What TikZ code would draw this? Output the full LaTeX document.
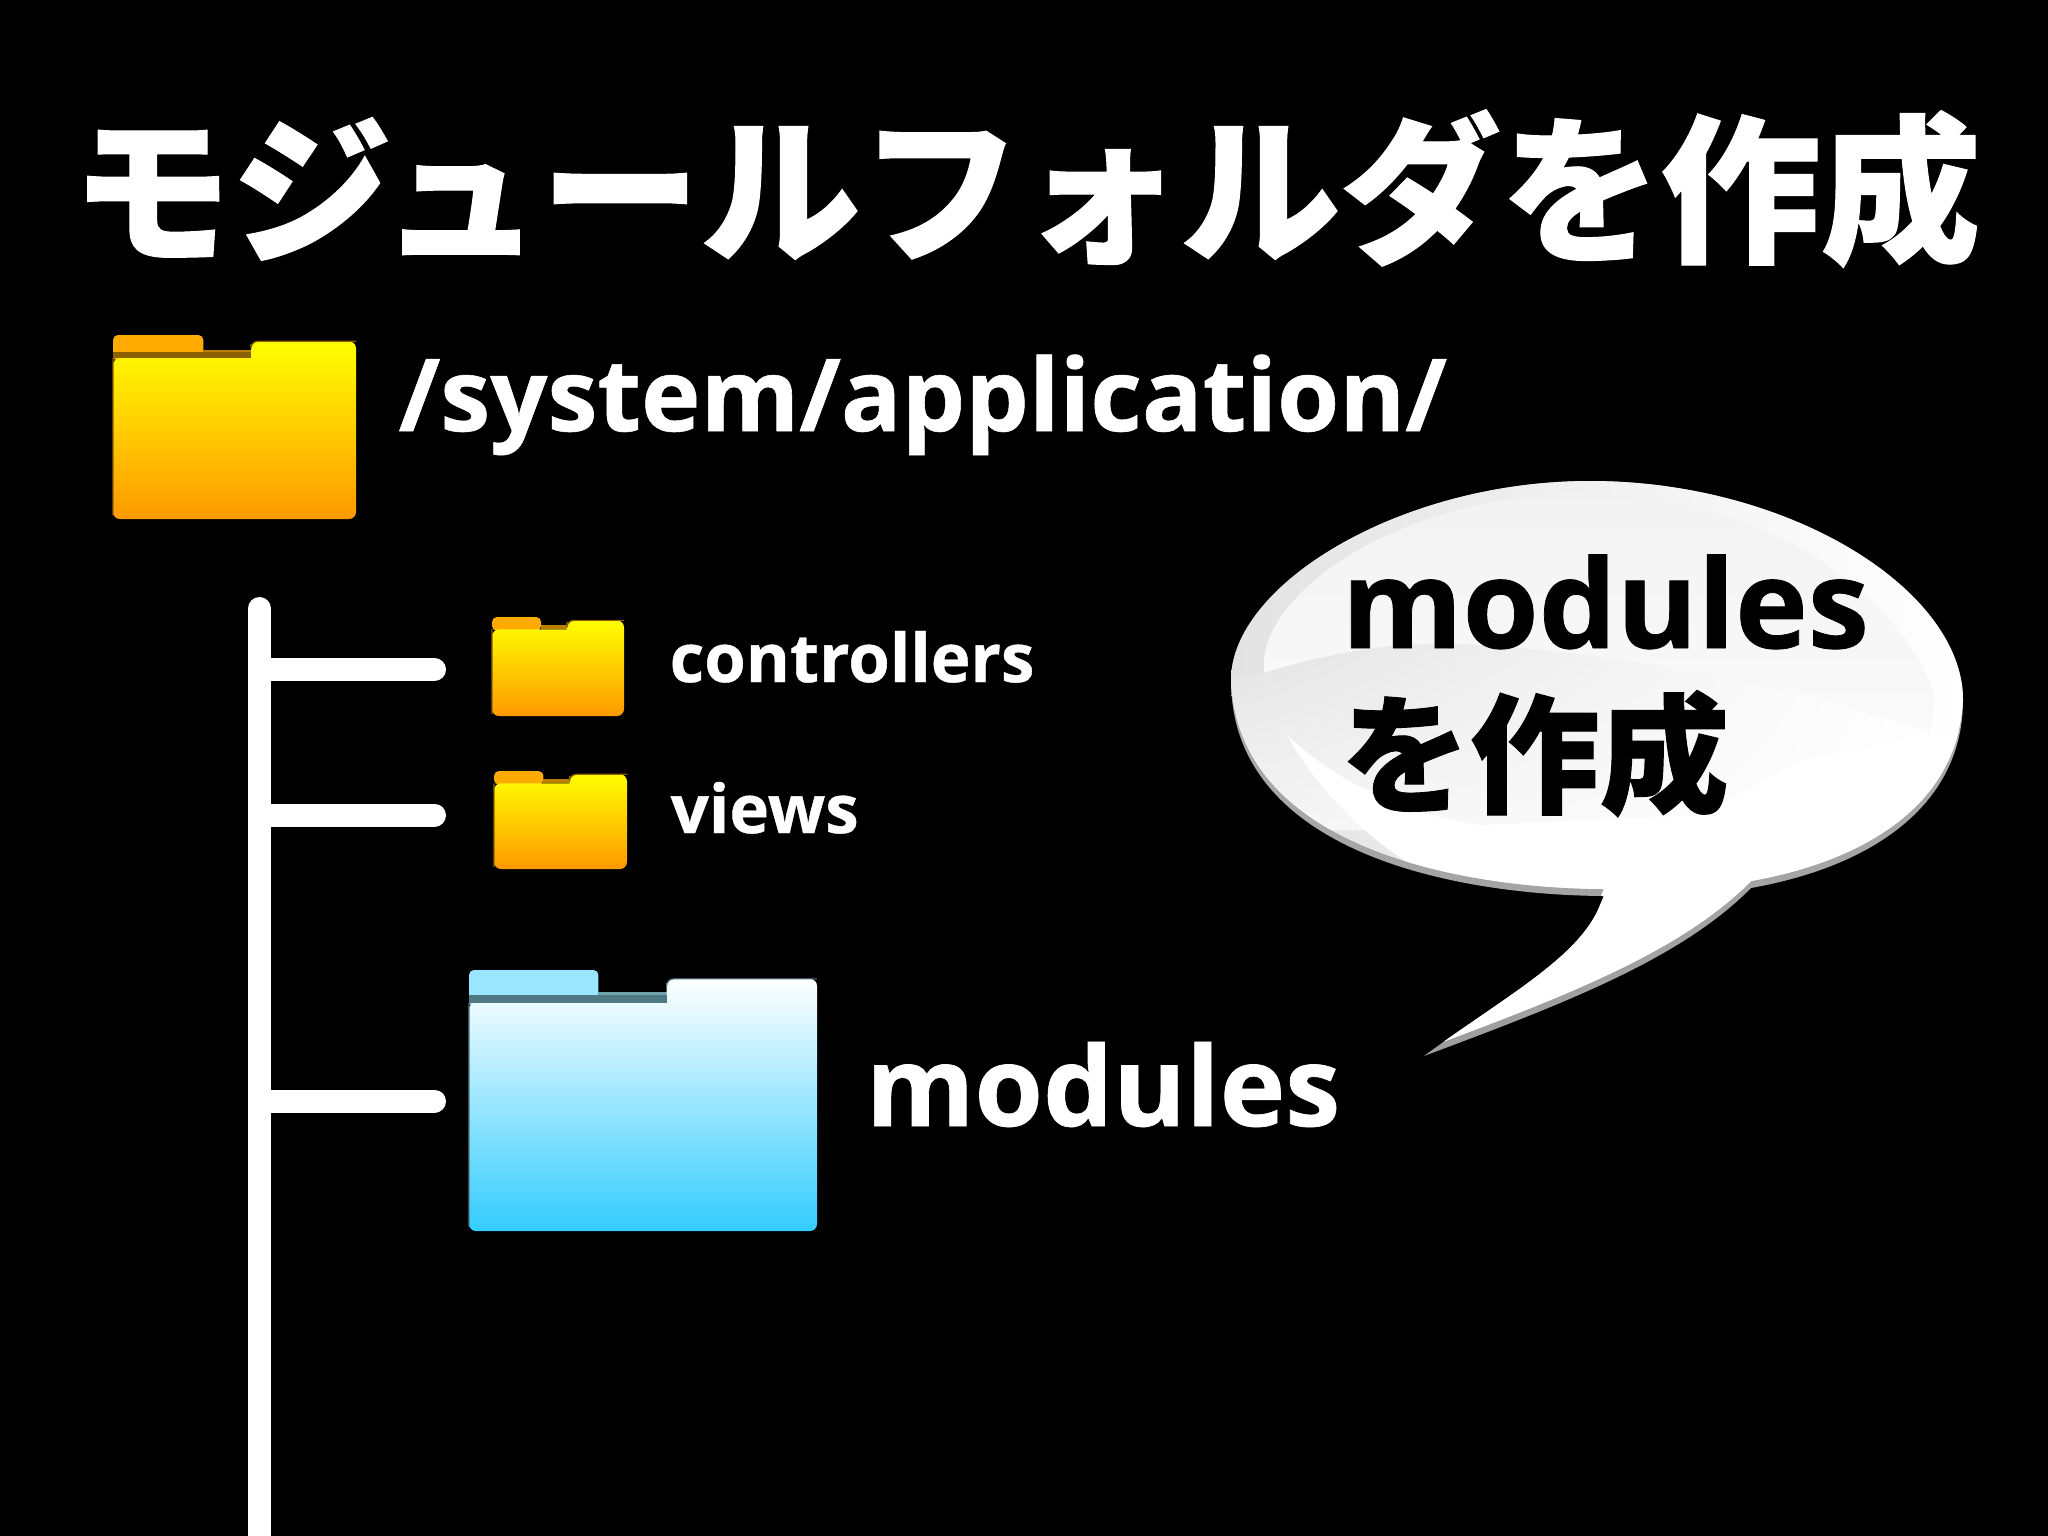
\documentclass[tikz,border=0pt]{standalone}
\usepackage{fontspec}
\usetikzlibrary{shadings}
\setmainfont[BoldFeatures={FakeBold=0.6}]{Open Sans}
\newfontfamily\cjk[BoldFeatures={FakeBold=0.7}]{Noto Sans CJK JP}
\tikzset{
  x=0.01cm,y=-0.01cm,
  label/.style={anchor=base west,inner sep=0pt,font=\bfseries},
  branch/.style={draw=white,line width=0.23cm,line cap=round},
  trunk/.style={draw=white,line width=0.23cm,line cap=round},
}
\definecolor{ytop}{HTML}{FFFF00}\definecolor{ybot}{HTML}{FF9900}\definecolor{ytab}{HTML}{FFAA00}
\definecolor{ystrip}{HTML}{B98000}\definecolor{yedge}{HTML}{8C5F00}
\definecolor{btop}{HTML}{FFFFFF}\definecolor{bbot}{HTML}{33CCFF}\definecolor{btab}{HTML}{9BE6FF}
\definecolor{bstrip}{HTML}{6FA2AD}\definecolor{bedge}{HTML}{4F7883}
% #1 x, #2 y, #3 w, #4 h, #5 top, #6 bottom, #7 tab, #8 strip, #9 edge
\newcommand\folderdraw[9]{%
  \begin{scope}[shift={(#1,#2)},x=#3*0.01cm,y=#4*-0.01cm]
    \fill[#7,rounded corners=0.05cm] (0,.14) -- (0,0) -- (.372,0) -- (.372,.14) -- cycle;
    \fill[#8] (.372,.083) rectangle (.568,.125);
    \shade[top color=#5,bottom color=#6]
      (0,1) [rounded corners=0.07cm] -- (0,.125) [sharp corners] -- (.568,.125)
      [rounded corners=0.07cm] -- (.568,.034) -- (1,.034) -- (1,1) -- (0,1) -- cycle;
    \draw[#9,line width=0.012cm,rounded corners=0.07cm]
      (0,.98) -- (0,.125) (.568,.05) -- (.568,.034) -- (1,.034);
  \end{scope}}
% dark line under the tab of the large folders
\newcommand\tabline[5]{%
  \begin{scope}[shift={(#1,#2)},x=#3*0.01cm,y=#4*-0.01cm]
    \fill[#5] (0,.095) rectangle (.568,.125);
  \end{scope}}
\newcommand\bubblepath{(1590,481) .. controls (1790,481) and (1963,590) .. (1963,700)
  .. controls (1963,800) and (1880,865) .. (1751,888)
  .. controls (1680,960) and (1560,1005) .. (1424,1056)
  .. controls (1500,1000) and (1575,960) .. (1598,910)
  -- (1604,896) .. controls (1450,895) and (1231,850) .. (1231,680)
  .. controls (1231,585) and (1400,481) .. (1590,481) -- cycle}
\begin{document}
\begin{tikzpicture}
\useasboundingbox (0,0) rectangle (2048,1536);
\fill[black] (0,0) rectangle (2048,1536);
% title
\node[inner sep=0pt,anchor=base west,text=white] (title) at (71,250)
  {\cjk\bfseries\fontsize{45.5}{54}\selectfont モジュールフォルダを作成};
% folders
\folderdraw{113}{335}{243}{184}{ytop}{ybot}{ytab}{ystrip}{yedge}
\tabline{113}{335}{243}{184}{yedge}
\folderdraw{492}{617}{132}{99}{ytop}{ybot}{ytab}{ystrip}{yedge}
\folderdraw{494}{771}{133}{98}{ytop}{ybot}{ytab}{ystrip}{yedge}
\folderdraw{469}{970}{348}{261}{btop}{bbot}{btab}{bstrip}{bedge}
\tabline{469}{970}{348}{261}{bedge}
% labels
\node[label,text=white,font=\bfseries\fontsize{28.6}{34}\selectfont] (root) at (398,431) {/system/application/};
\node[label,text=white,font=\bfseries\fontsize{19.1}{24}\selectfont] (ctl) at (669,682) {controllers};
\node[label,text=white,font=\bfseries\fontsize{19.1}{24}\selectfont] (view) at (670,833) {views};
\node[label,text=white,font=\bfseries\fontsize{31.5}{38}\selectfont] (mod) at (865,1126) {modules};
% tree
\coordinate (ttop) at (259.5,608.5);
\coordinate (tbot) at (259.5,1560);
\coordinate (b1s) at (259.5,669.5);\coordinate (b1e) at (434.5,669.5);
\coordinate (b2s) at (259.5,815);\coordinate (b2e) at (434.5,815);
\coordinate (b3s) at (259.5,1101);\coordinate (b3e) at (434.5,1101);
\draw[trunk] (ttop) -- (tbot);
\draw[branch] (b1s) -- (b1e);
\draw[branch] (b2s) -- (b2e);
\draw[branch] (b3s) -- (b3e);
% bubble
\shade[top color=black!30,middle color=black!15,bottom color=black!38] \bubblepath;
\begin{scope}
  \clip \bubblepath;
  \clip[shift={(0,-7)}] \bubblepath;
  \shade[left color=black!11,right color=white] (1231,470) rectangle (1963,1060);
  % upper gloss
  \shade[top color=black!5,bottom color=black!2]
    (1264,673) .. controls (1340,650) and (1400,642) .. (1455,644)
    .. controls (1600,650) and (1780,680) .. (1930,733)
    -- (1935,697) .. controls (1900,590) and (1760,494) .. (1580,494)
    .. controls (1410,494) and (1270,585) .. (1264,660) -- cycle;
  % band under the gloss
  \shade[upper left=black!11,lower left=black!4,upper right=white,lower right=white]
    (1225,680) -- (1264,673) .. controls (1340,650) and (1400,642) .. (1455,644)
    .. controls (1600,650) and (1780,680) .. (1930,733) -- (1935,830) -- (1225,830) -- cycle;
  % lower highlight
  \fill[white] (1287,735) .. controls (1340,785) and (1410,815) .. (1480,825)
    -- (1700,815) -- (1800,760) -- (1935,735) -- (2000,735) -- (2000,1100) -- (1420,1100)
    -- (1420,870) .. controls (1360,835) and (1315,785) .. (1287,735) -- cycle;
\end{scope}
\node[label,text=black,font=\bfseries\fontsize{35}{42}\selectfont] (bm) at (1341,648) {modules};
\node[inner sep=0pt,anchor=base west,text=black] (bj) at (1340,803)
  {\cjk\bfseries\fontsize{36.8}{44}\selectfont を作成};
\end{tikzpicture}
\end{document}
